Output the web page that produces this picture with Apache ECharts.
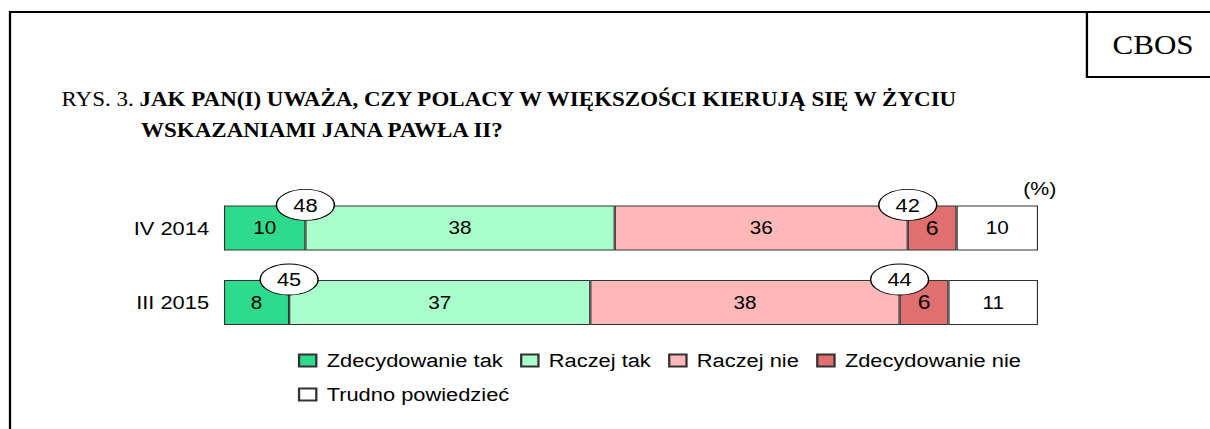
<!DOCTYPE html>
<html>
<head>
<meta charset="utf-8">
<script src="https://cdn.jsdelivr.net/npm/echarts@6/dist/echarts.min.js"></script>
<style>
  html, body { margin: 0; padding: 0; background: #fff; overflow: hidden; width: 1210px; height: 429px; }
  #chart { position: absolute; left: 0; top: 0; width: 1052px; height: 429px; transform: scaleX(1.1502); transform-origin: 0 0; }
</style>
</head>
<body>
<div id="chart"></div>
<script>
// ---- data ----
const categories = ['IV 2014', 'III 2015'];
const seriesNames = ['Zdecydowanie tak', 'Raczej tak', 'Raczej nie', 'Zdecydowanie nie', 'Trudno powiedzieć'];
const zdecydowanieTak = [10, 8];
const raczejTak = [38, 37];
const raczejNie = [36, 38];
const zdecydowanieNie = [6, 6];
const trudnoPowiedziec = [10, 11];
const sumaTak = [48, 45];
const sumaNie = [42, 44];
const titleLead = 'RYS. 3. ';
const titleLine1 = 'JAK PAN(I) UWAŻA, CZY POLACY W WIĘKSZOŚCI KIERUJĄ SIĘ W ŻYCIU';
const titleLine2 = 'WSKAZANIAMI JANA PAWŁA II?';
const unitLabel = '(%)';
const sourceLabel = 'CBOS';

// ---- styles ----
const colors = ['#2EDB8C', '#A8FFCC', '#FFB8B8', '#E07070', '#FFFFFF'];
const sans = '"Liberation Sans", Arial, sans-serif';
const serif = '"Liberation Serif", "Times New Roman", serif';
const values = [zdecydowanieTak, raczejTak, raczejNie, zdecydowanieNie, trudnoPowiedziec];

const chart = echarts.init(document.getElementById('chart'), null, { renderer: 'svg' });

const barSeries = seriesNames.map((name, k) => ({
  name: name,
  type: 'bar',
  stack: 'total',
  barWidth: 45,
  data: values[k],
  itemStyle: { color: colors[k], borderColor: '#333', borderWidth: 1 },
  label: {
    show: true,
    position: 'inside',
    color: '#000',
    fontFamily: sans,
    fontSize: k === 3 ? 20 : 18
  },
  emphasis: { disabled: true }
}));

const calloutData = [];
categories.forEach((c, i) => {
  calloutData.push({ value: [zdecydowanieTak[i], c, sumaTak[i]] });
  calloutData.push({ value: [zdecydowanieTak[i] + raczejTak[i] + raczejNie[i], c, sumaNie[i]] });
});

const option = {
  animation: false,
  grid: { left: 194.75, top: 190.6, width: 707.7, height: 149.2 },
  xAxis: { type: 'value', min: 0, max: 100, show: false },
  yAxis: {
    type: 'category',
    data: categories,
    inverse: true,
    axisLine: { show: false },
    axisTick: { show: false },
    axisLabel: { color: '#000', fontFamily: sans, fontSize: 19, margin: 13 }
  },
  legend: {
    data: seriesNames,
    left: 259,
    top: 351,
    width: 640,
    padding: 0,
    itemWidth: 15,
    itemHeight: 12,
    itemGap: 15,
    icon: 'rect',
    selectedMode: false,
    textStyle: { color: '#000', fontFamily: sans, fontSize: 19, padding: [0, 0, 0, 4] }
  },
  series: barSeries.concat([{
    name: 'callouts',
    type: 'scatter',
    data: calloutData,
    symbol: 'path://M0,15A25,15 0 1,1 50,15A25,15 0 1,1 0,15Z',
    symbolSize: [50.4, 31],
    symbolOffset: [0, -23],
    z: 5,
    clip: false,
    itemStyle: { color: '#fff', borderColor: '#000', borderWidth: 1, opacity: 1 },
    label: {
      show: true,
      position: 'inside',
      color: '#000',
      fontFamily: sans,
      fontSize: 19,
      formatter: p => String(p.value[2])
    },
    emphasis: { disabled: true }
  }]),
  graphic: [
    // outer frame (left and top edges)
    { type: 'polyline', shape: { points: [[8.7, 440], [8.7, 12], [1060, 12]] }, style: { stroke: '#000', lineWidth: 2, fill: null } },
    // CBOS box
    { type: 'polyline', shape: { points: [[945, 12], [945, 77], [1060, 77]] }, style: { stroke: '#000', lineWidth: 2, fill: null } },
    { type: 'text', x: 1002.5, y: 44.5, style: { text: sourceLabel, font: '27px ' + serif, fill: '#000', align: 'center', verticalAlign: 'middle' } },
    // title
    { type: 'text', x: 53.5, y: 100, style: {
        text: '{n|' + titleLead + '}{b|' + titleLine1 + '}',
        verticalAlign: 'middle', align: 'left', fill: '#000',
        rich: {
          n: { fontFamily: serif, fontSize: 20, fontWeight: 'normal', fill: '#000' },
          b: { fontFamily: serif, fontSize: 20, fontWeight: 'bold', fill: '#000' }
        }
      } },
    { type: 'text', x: 122.6, y: 131, style: { text: titleLine2, font: 'bold 20px ' + serif, fill: '#000', align: 'left', verticalAlign: 'middle' } },
    // unit
    { type: 'text', x: 904, y: 189, style: { text: unitLabel, font: '18.5px ' + sans, fill: '#000', align: 'center', verticalAlign: 'middle' } }
  ]
};

chart.setOption(option);
</script>
</body>
</html>
